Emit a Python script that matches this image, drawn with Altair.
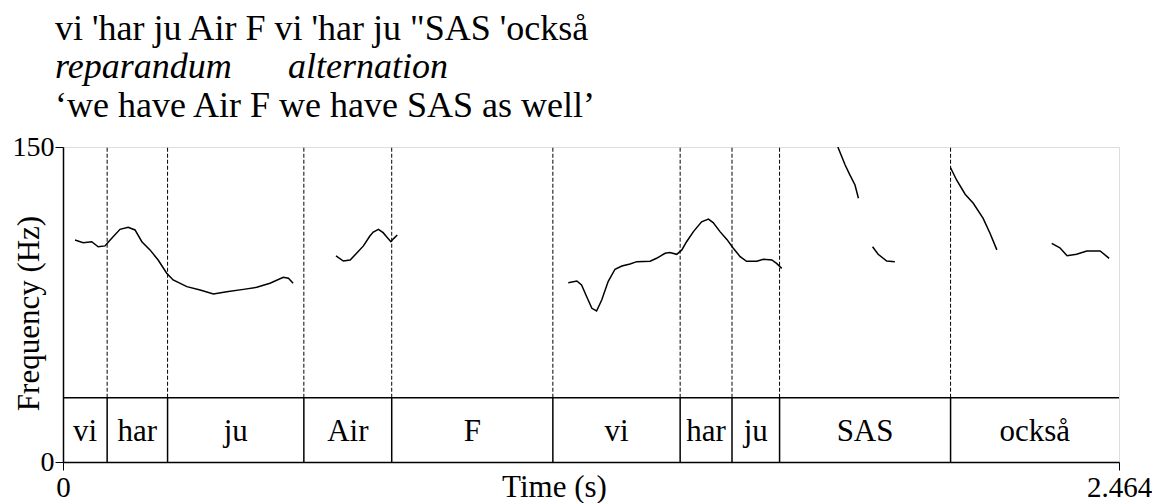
import altair as alt
import pandas as pd

# ---------------- data ----------------
T_END = 2.464
Y_MAX = 150
TIER_TOP = 30.6
LABEL_Y = 14.5

words = ["vi", "har", "ju", "Air", "F", "vi", "har", "ju", "SAS", "också"]
bounds = [0.0, 0.103, 0.244, 0.562, 0.767, 1.143, 1.440, 1.561, 1.672, 2.071, 2.464]

seg1_t = [0.028, 0.047, 0.067, 0.082, 0.098, 0.110, 0.133, 0.152, 0.168, 0.184, 0.203, 0.222,
          0.242, 0.257, 0.289, 0.320, 0.351, 0.382, 0.421, 0.452, 0.483, 0.514, 0.526, 0.537]
seg1_hz = [105.7, 104.4, 104.9, 102.5, 102.9, 105.7, 110.8, 111.8, 110.5, 104.9, 101.0, 96.2,
           89.9, 86.7, 83.5, 81.9, 80.0, 81.1, 82.2, 83.2, 85.1, 88.0, 87.5, 85.1]

seg2_t = [0.637, 0.654, 0.670, 0.685, 0.701, 0.716, 0.724, 0.736, 0.747, 0.755, 0.765, 0.772, 0.780]
seg2_hz = [98.1, 95.7, 96.2, 99.4, 102.9, 107.6, 109.5, 110.8, 109.2, 107.3, 104.9, 106.5, 108.1]

seg3_t = [1.179, 1.199, 1.210, 1.222, 1.234, 1.245, 1.257, 1.272, 1.288, 1.304, 1.323, 1.339,
          1.370, 1.385, 1.405, 1.416, 1.432, 1.444, 1.455, 1.471, 1.490, 1.506, 1.517, 1.533,
          1.549, 1.564, 1.580, 1.595, 1.619, 1.634, 1.654, 1.665, 1.677]
seg3_hz = [85.4, 86.2, 84.3, 78.7, 73.2, 71.9, 77.1, 85.9, 91.8, 93.3, 94.3, 95.4,
           95.6, 97.0, 99.4, 99.7, 98.9, 101.0, 104.9, 109.7, 114.4, 115.7, 114.0, 109.7,
           106.0, 101.8, 97.8, 95.6, 95.6, 96.5, 96.2, 94.6, 92.2]

seg4_t = [1.808, 1.825, 1.836, 1.848, 1.856]
seg4_hz = [150.0, 141.4, 136.7, 131.9, 125.6]

seg5_t = [1.889, 1.902, 1.922, 1.941]
seg5_hz = [102.5, 98.9, 95.7, 95.4]

seg6_t = [2.071, 2.085, 2.105, 2.124, 2.147, 2.163, 2.179]
seg6_hz = [140.1, 134.3, 127.5, 123.2, 116.0, 108.9, 101.0]

seg7_t = [2.307, 2.326, 2.343, 2.365, 2.389, 2.420, 2.441]
seg7_hz = [104.1, 102.0, 98.2, 98.9, 100.5, 100.5, 97.0]

TITLE_1 = "vi 'har ju Air F vi 'har ju \"SAS 'också"
TITLE_2A = "reparandum"
TITLE_2B = "alternation"
TITLE_3 = "\u2018we have Air F we have SAS as well\u2019"

# ---------------- tables ----------------
FONT = "Times New Roman"
segs = [(seg1_t, seg1_hz), (seg2_t, seg2_hz), (seg3_t, seg3_hz), (seg4_t, seg4_hz),
        (seg5_t, seg5_hz), (seg6_t, seg6_hz), (seg7_t, seg7_hz)]
rows = []
for i, (ts, hs) in enumerate(segs):
    for k, (t, h) in enumerate(zip(ts, hs)):
        rows.append({"t": t, "hz": h, "seg": i, "order": k})
pitch = pd.DataFrame(rows)

interior = bounds[1:-1]
dash_df = pd.DataFrame({"t": interior, "y0": [TIER_TOP] * len(interior), "y1": [Y_MAX] * len(interior)})
tier_v = pd.DataFrame({"t": interior, "y0": [0] * len(interior), "y1": [TIER_TOP] * len(interior)})
tier_h = pd.DataFrame({"t0": [0.0], "t1": [T_END], "y": [TIER_TOP]})
lab_df = pd.DataFrame({"word": words, "start": bounds[:-1], "end": bounds[1:]})

xs = alt.Scale(domain=[0, T_END], nice=False, zero=False)
ys = alt.Scale(domain=[0, Y_MAX], nice=False)

x_axis = alt.Axis(values=[0, T_END], format=".4~g", title="Time (s)", grid=False,
                  tickSize=8, tickColor="black", domainColor="black", domainWidth=1.5,
                  labelFont=FONT, labelFontSize=29, labelColor="black", labelPadding=26,
                  labelBaseline="alphabetic", labelFlush=False, labelOverlap=False,
                  titleFont=FONT, titleFontSize=31, titleFontWeight="normal", titleColor="black",
                  titleX=491, titleY=34, titleBaseline="alphabetic")
y_axis = alt.Axis(values=[0, Y_MAX], format="d", title="Frequency (Hz)", grid=False,
                  tickSize=8, tickColor="black", domainColor="black", domainWidth=1.5,
                  labelFont=FONT, labelFontSize=28, labelColor="black", labelPadding=1,
                  labelBaseline="middle", labelOverlap=False, labelFlush=False,
                  titleFont=FONT, titleFontSize=31, titleFontWeight="normal", titleColor="black",
                  titleX=-34, titleY=166, titleBaseline="middle")

lines = alt.Chart(pitch).mark_line(color="black", strokeWidth=1.5, clip=True).encode(
    x=alt.X("t:Q", scale=xs, axis=x_axis),
    y=alt.Y("hz:Q", scale=ys, axis=y_axis),
    detail="seg:N",
    order="order:Q",
)

dashes = alt.Chart(dash_df).mark_rule(color="black", strokeWidth=1, strokeDash=[4, 2]).encode(
    x=alt.X("t:Q", scale=xs), y=alt.Y("y0:Q", scale=ys), y2="y1:Q")

tier_lines = alt.Chart(tier_v).mark_rule(color="black", strokeWidth=1.5).encode(
    x=alt.X("t:Q", scale=xs), y=alt.Y("y0:Q", scale=ys), y2="y1:Q")

tier_top = alt.Chart(tier_h).mark_rule(color="black", strokeWidth=1.5).encode(
    x=alt.X("t0:Q", scale=xs), x2="t1:Q", y=alt.Y("y:Q", scale=ys))

labels = alt.Chart(lab_df).transform_calculate(
    mid="(datum.start + datum.end) / 2", ly=str(LABEL_Y)
).mark_text(font=FONT, fontSize=31, color="black", baseline="middle", align="center").encode(
    x=alt.X("mid:Q", scale=xs), y=alt.Y("ly:Q", scale=ys), text="word:N")


def title_text(txt, x, y, style="normal"):
    return alt.Chart(pd.DataFrame({"txt": [txt]})).mark_text(
        font=FONT, fontSize=36, fontStyle=style, color="black", align="left", baseline="alphabetic"
    ).encode(text="txt:N", x=alt.value(x), y=alt.value(y))


t1 = title_text(TITLE_1, -8, -107)
t2a = title_text(TITLE_2A, -8, -69, "italic")
t2b = title_text(TITLE_2B, 225, -69, "italic")
t3 = title_text(TITLE_3, -8, -30)

chart = alt.layer(dashes, tier_lines, tier_top, lines, labels, t1, t2a, t2b, t3).properties(
    width=1056, height=315,
    autosize=alt.AutoSizeParams(type="none"),
    padding={"left": 55, "top": 139, "right": 33, "bottom": 41},
).configure_view(stroke="black", strokeWidth=1.5).configure(background="white", font=FONT)

chart.save("out.html", embed_options={"renderer": "svg", "actions": False})
